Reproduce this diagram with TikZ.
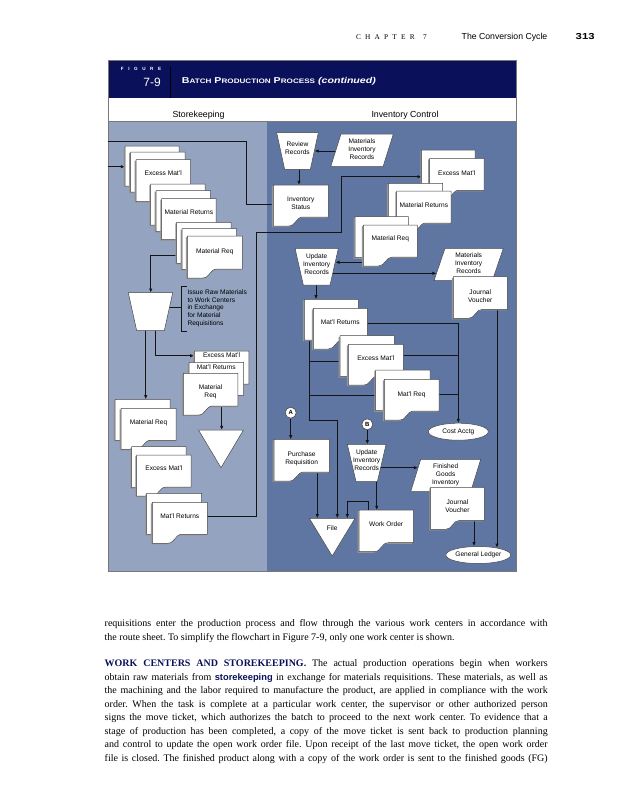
\documentclass[tikz,border=0pt]{standalone}
\usepackage{graphicx}
\usepackage{fontspec}
\setmainfont{Liberation Serif}
\newfontfamily\hv{Liberation Sans}
\usetikzlibrary{arrows.meta,shapes.geometric}
\pgfdeclarelayer{bgl}
\pgfdeclarelayer{conn}
\pgfsetlayers{bgl,conn,main}
\definecolor{navy}{RGB}{10,16,89}
\definecolor{skbg}{RGB}{148,163,191}
\definecolor{icbg}{RGB}{94,118,161}
\definecolor{lnk}{RGB}{20,20,20}
\definecolor{docedge}{RGB}{70,70,70}
\definecolor{docshade}{RGB}{150,150,150}
\definecolor{framegray}{RGB}{120,120,120}
\frenchspacing
\tikzset{
 docsty/.style={fill=white, draw=docedge, line width=0.5pt},
 shadesty/.style={fill=docshade, draw=none},
 anchorbox/.style={draw=none, inner sep=0pt, outer sep=0pt},
 dtxt/.style={inner sep=0pt, align=center, font=\hv\fontsize{6.6}{8}\selectfont, text=black},
 link/.style={draw=lnk, line width=0.8pt},
 arr/.style={link, -{Latex[length=4.2pt,width=3.4pt]}},
 bodyline/.style={anchor=base west, inner sep=0pt, font=\fontsize{10}{13.45}\selectfont},
 colhead/.style={anchor=base, inner sep=0pt, font=\hv\fontsize{8.8}{10}\selectfont},
 oval/.style={ellipse, draw=docedge, fill=white, line width=0.5pt, minimum width=60pt, minimum height=17pt, inner sep=0pt, font=\hv\fontsize{6.6}{8}\selectfont},
 conn/.style={circle, draw=docedge, fill=white, line width=0.6pt, minimum size=11pt, inner sep=0pt, font=\hv\bfseries\fontsize{6}{6}\selectfont},
}
% document symbol: name, x, y, w, h, text, text offset
\newcommand\mkDoc[7]{%
 \pgfmathsetmacro\myXa{#2}%
 \pgfmathsetmacro\myYa{#3}%
 \pgfmathsetmacro\myXb{#2+#4}%
 \pgfmathsetmacro\myYb{#3+#5}%
 \pgfmathsetmacro\myYc{#3+#5-9}%
 \pgfmathsetmacro\myXm{#2+0.54*#4}%
 \pgfmathsetmacro\myXc{#2+0.41*#4}%
 \pgfmathsetmacro\myXq{#2+0.28*#4}%
 \pgfmathsetmacro\myXt{#2+0.5*#4}%
 \pgfmathsetmacro\myYt{#3+#7}%
 \fill[shadesty, shift={(-1.4,1.1)}] (\myXa,\myYa) -- (\myXb,\myYa) -- (\myXb,\myYc) -- (\myXm,\myYc) .. controls (\myXc,\myYc) and (\myXc,\myYb) .. (\myXq,\myYb) -- (\myXa,\myYb) -- cycle;
 \filldraw[docsty] (\myXa,\myYa) -- (\myXb,\myYa) -- (\myXb,\myYc) -- (\myXm,\myYc) .. controls (\myXc,\myYc) and (\myXc,\myYb) .. (\myXq,\myYb) -- (\myXa,\myYb) -- cycle;
 \node[anchorbox, minimum width=#4pt, minimum height=#5pt, anchor=north west] (#1) at (\myXa,\myYa) {};
 \node[dtxt, anchor=north] (#1t) at (\myXt,\myYt) {#6};
}
% manual operation: name, cx, ytop, wtop, wbot, h, text
\newcommand\mkTrap[7]{%
 \pgfmathsetmacro\myXa{#2-#4/2}%
 \pgfmathsetmacro\myXb{#2+#4/2}%
 \pgfmathsetmacro\myXc{#2+#5/2}%
 \pgfmathsetmacro\myXd{#2-#5/2}%
 \pgfmathsetmacro\myYb{#3+#6}%
 \pgfmathsetmacro\myYm{#3+#6/2}%
 \pgfmathsetmacro\myYt{#3+#6/2-3}%
 \filldraw[docsty] (\myXa,#3) -- (\myXb,#3) -- (\myXc,\myYb) -- (\myXd,\myYb) -- cycle;
 \node[anchorbox, minimum width=#4pt, minimum height=#6pt] (#1) at (#2,\myYm) {};
 \node[dtxt] (#1t) at (#2,\myYt) {#7};
}
% parallelogram: name, xTL, ytop, xBL, w, h, text
\newcommand\mkPara[7]{%
 \pgfmathsetmacro\myXa{#2}%
 \pgfmathsetmacro\myXb{#2+#5}%
 \pgfmathsetmacro\myXc{#4+#5}%
 \pgfmathsetmacro\myXd{#4}%
 \pgfmathsetmacro\myYb{#3+#6}%
 \pgfmathsetmacro\myYm{#3+#6/2}%
 \pgfmathsetmacro\myYt{#3+#6/2-1}%
 \pgfmathsetmacro\myXm{(#2+#4+#5)/2}%
 \filldraw[docsty] (\myXa,#3) -- (\myXb,#3) -- (\myXc,\myYb) -- (\myXd,\myYb) -- cycle;
 \node[anchorbox, minimum width=#5pt, minimum height=#6pt] (#1) at (\myXm,\myYm) {};
 \node[dtxt] (#1t) at (\myXm,\myYt) {#7};
}
% off-line file: name, cx, ytop, w, h, text, text y
\newcommand\mkTri[7]{%
 \pgfmathsetmacro\myXa{#2-#4/2}%
 \pgfmathsetmacro\myXb{#2+#4/2}%
 \pgfmathsetmacro\myYb{#3+#5}%
 \pgfmathsetmacro\myYm{#3+#5/2}%
 \filldraw[docsty] (\myXa,#3) -- (\myXb,#3) -- (#2,\myYb) -- cycle;
 \node[anchorbox, minimum width=#4pt, minimum height=#5pt] (#1) at (#2,\myYm) {};
 \node[dtxt] (#1t) at (#2,#7) {#6};
}
\begin{document}
\begin{tikzpicture}[x=1pt,y=-1pt]
\useasboundingbox (0,0) rectangle (639,800);
\begin{pgfonlayer}{bgl}
\fill[white] (0,0) rectangle (639,800);
\fill[navy] (108.3,60) rectangle (516,98.3);
\fill[white] (108.3,98.3) rectangle (516,121.3);
\fill[skbg] (108.3,121.3) rectangle (266.7,571.7);
\fill[icbg] (266.7,121.3) rectangle (516,571.7);
\draw[framegray, line width=0.8pt] (108.3,60) rectangle (516,571.7);
\draw[framegray, line width=1.2pt] (108.3,121.3) -- (516,121.3);
\draw[black, line width=1.2pt] (170.7,66.7) -- (170.7,98.3);
\end{pgfonlayer}

% page header
\node[anchor=base west, inner sep=0pt] (chap) at (355.9,39.1) {\fontsize{7.3}{8}\selectfont\makebox[70.6pt][s]{C\hfill H\hfill A\hfill P\hfill T\hfill E\hfill R\hfill\hfill 7}};
\node[anchor=base west, inner sep=0pt, font=\hv\fontsize{8.7}{9}\selectfont] (chapname) at (461.5,39.5) {The Conversion Cycle};
\node[anchor=base east, inner sep=0pt] (pageno) at (594.8,39.5) {\scalebox{1.3}[1]{\hv\bfseries\fontsize{8.7}{9}\selectfont 313}};

% figure header
\node[anchor=base west, inner sep=0pt, text=white] (figword) at (120.7,70.7) {\hv\bfseries\fontsize{4.6}{5}\selectfont\makebox[40.3pt][s]{F\hfill I\hfill G\hfill U\hfill R\hfill E}};
\node[anchor=base east, inner sep=0pt, text=white, font=\hv\fontsize{12}{13}\selectfont] (fignum) at (161,86.5) {7-9};
\node[anchor=base west, inner sep=0pt, text=white] (figtitle) at (181.7,84) {\scalebox{1.25}[1]{\hv\bfseries\fontsize{8.5}{9}\selectfont B{\fontsize{6.5}{7}\selectfont ATCH} P{\fontsize{6.5}{7}\selectfont RODUCTION} P{\fontsize{6.5}{7}\selectfont ROCESS} {\itshape (continued)}}};
\node[colhead] (hsk) at (198.5,117.5) {Storekeeping};
\node[colhead] (hic) at (405,117.5) {Inventory Control};

% ---------- Storekeeping ----------
\mkDoc{A1}{125}{146}{54}{40}{}{12}
\mkDoc{A2}{130.5}{152}{54.5}{40}{}{12}
\mkDoc{A3}{136}{159.5}{54.5}{42}{Excess Mat’l}{11.5}
\mkDoc{B1}{150.7}{184}{54.5}{41}{}{12}
\mkDoc{B2}{156}{190.5}{54.5}{41}{}{12}
\mkDoc{B3}{161.7}{198.7}{54.5}{41}{Material Returns}{11}
\mkDoc{C1}{176.7}{222.3}{54.5}{41}{}{12}
\mkDoc{C2}{182}{228.5}{54.5}{41}{}{12}
\mkDoc{C3}{187.3}{236}{55}{42}{Material Req}{12.5}
\mkTrap{T1}{150.5}{292.7}{44.4}{27.6}{38}{}
\node[dtxt, anchor=west, align=left, font=\hv\fontsize{6.6}{7.65}\selectfont] (T1note) at (187.3,308) {Issue Raw Materials\\to Work Centers\\in Exchange\\for Material\\Requisitions};
\mkDoc{D1}{194.3}{351}{54.5}{42}{Excess Mat’l}{2}
\mkDoc{D2}{189}{362.3}{54.5}{42}{Mat’l Returns}{2}
\mkDoc{D3}{183.3}{373.3}{54.5}{41.7}{Material\\Req}{11.6}
\mkTri{TRI1}{221}{430}{45}{37.7}{}{440}
\mkDoc{E1a}{115}{399.3}{55}{41}{}{12}
\mkDoc{E1b}{121}{408.3}{55}{41}{Material Req}{11}
\mkDoc{E2a}{131.7}{446.7}{54.5}{41}{}{12}
\mkDoc{E2b}{136.7}{455}{54.5}{41}{Excess Mat’l}{11}
\mkDoc{E3a}{146.7}{493.3}{55}{41}{}{12}
\mkDoc{E3b}{152.3}{502.3}{55}{41}{Mat’l Returns}{11}

% ---------- Inventory Control ----------
\mkTrap{RR}{297.5}{132.7}{41.6}{25.7}{36.6}{Review\\Records}
\mkPara{MIR1}{341}{134}{330.7}{52.3}{32.7}{Materials\\Inventory\\Records}
\mkDoc{IS}{273.3}{185}{55}{41}{Inventory\\Status}{12}
\mkDoc{F1}{421.7}{150}{53.3}{41}{}{12}
\mkDoc{F2}{429.5}{158.3}{54.5}{41}{Excess Mat’l}{12}
\mkDoc{G1}{388.3}{183.3}{54.4}{41}{}{12}
\mkDoc{G2}{396.7}{191}{54.3}{41}{Material Returns}{11.6}
\mkDoc{H1}{355}{216.7}{53.3}{41}{}{12}
\mkDoc{H2}{363.3}{225}{54}{41}{Material Req}{11}
\mkTrap{UIR1}{316.7}{248.3}{43.3}{26.7}{36.7}{Update\\Inventory\\Records}
\mkPara{MIR2}{445}{248.3}{434}{58.3}{32.4}{Materials\\Inventory\\Records}
\mkDoc{JV1}{453.3}{276.7}{54}{41.6}{Journal\\Voucher}{12.6}
\mkDoc{I1}{304.3}{299.3}{54}{40.7}{}{12}
\mkDoc{I2}{313.3}{308.3}{54}{40.7}{Mat’l Returns}{11.6}
\mkDoc{J1}{340}{335.7}{54.3}{40.7}{}{12}
\mkDoc{J2}{348.3}{344.3}{55}{40.7}{Excess Mat’l}{11.6}
\mkDoc{K1}{375.7}{370}{54.3}{40.7}{}{12}
\mkDoc{K2}{384.3}{379.3}{54.7}{40.7}{Mat’l Req}{12.6}
\node[conn] (cA) at (290.7,412.7) {A};
\node[conn] (cB) at (367.3,424.3) {B};
\node[oval] (CA) at (458.3,431.7) {Cost Acctg};
\mkDoc{PR}{274}{439.3}{55.3}{41.7}{Purchase\\Requisition}{12.6}
\mkTrap{UIR2}{366.7}{444.3}{38.7}{21.3}{37.4}{Update\\Inventory\\Records}
\mkPara{FGI}{420.7}{459.3}{410.7}{60}{32.4}{Finished\\Goods\\Inventory}
\mkDoc{JV2}{430.7}{487.3}{53.6}{42}{Journal\\Voucher}{12.6}
\mkDoc{WO}{359}{510}{54.3}{41.7}{Work Order}{12}
\mkTri{File}{332.2}{518.3}{45.7}{37.7}{File}{528.3}
\node[oval] (GL) at (478.3,555) {General Ledger};

% ---------- connectors ----------
\begin{pgfonlayer}{conn}
\coordinate (Lin1) at (108.3,141.7);
\coordinate (Lin2) at (108.3,166.7);
\coordinate (RRr) at (314.5,151);
\coordinate (UIRr) at (335.3,262.3);
\coordinate (MIRl) at (436.5,273.3);
\coordinate (FGIl) at (418.1,467.7);
\draw[link] (Lin1) -- (246.7,141.7) -- (246.7,204) -- (IS.west |- 0,204);
\draw[arr] (Lin2) -- (A1.west |- Lin2);
\draw[arr] (C1.center |- 0,255) -- (150.7,255) -- (150.7,0 |- T1.north);
\draw[link] (T1.center |- 0,307.3) -- (181.7,307.3);
\draw[link, line width=0.7pt] (186.7,286.7) -- (181.7,286.7) -- (181.7,331) -- (186.7,331);
\draw[arr] (145.7,0 |- T1.center) -- (145.7,0 |- E1a.north);
\draw[arr] (155.7,0 |- T1.center) -- (155.7,355.7) -- (D1.west |- 0,355.7);
\draw[arr] (221.7,0 |- D3.center) -- (221.7,0 |- TRI1.north);
\draw[arr] (E3b.center |- 0,516.7) -- (256,516.7) -- (256,232.3) -- (341.7,232.3) -- (341.7,176.7) -- (F1.west |- 0,176.7);
\draw[arr] (MIR1.center |- 0,151) -- (RRr);
\draw[arr] (299,0 |- RR.center) -- (299,0 |- IS.north);
\draw[arr] (H2.west |- 0,262.3) -- (UIRr);
\draw[arr] (UIR1.center |- 0,273.3) -- (MIRl);
\draw[arr] (316,0 |- UIR1.center) -- (316,0 |- I1.north);
\draw[arr] (309,0 |- I1.center) -- (309,420.7) -- (337.3,420.7) -- (337.3,0 |- File.north);
\draw[link] (J1.center |- 0,361) -- (309,361);
\draw[link] (K1.center |- 0,395.7) -- (309,395.7);
\draw[arr] (I2.center |- 0,323.3) -- (458.3,323.3) -- (458.3,0 |- CA.north);
\draw[link] (J2.center |- 0,355.7) -- (458.3,355.7);
\draw[link] (K2.center |- 0,394.3) -- (458.3,394.3);
\draw[arr] (JV1.center -| GL.21) -- (GL.21);
\draw[arr] (cA.south) -- (cA.south |- PR.north);
\draw[arr] (317.3,0 |- PR.center) -- (317.3,0 |- File.north);
\draw[arr] (cB.south) -- (cB.south |- UIR2.north);
\draw[arr] (UIR2.center |- 0,467.7) -- (FGIl);
\draw[arr] (376.7,0 |- UIR2.center) -- (376.7,0 |- WO.north);
\draw[arr] (474,0 |- JV2.center) -- (474,0 |- GL.north);
\draw[arr] (368.3,0 |- WO.center) -- (368.3,501.7) -- (347.3,501.7) -- (347.3,0 |- File.north);
\end{pgfonlayer}

% ---------- body text ----------
\node[bodyline] (L1) at (104.5,626.6) {\makebox[443pt][s]{requisitions enter the production process and flow through the various work centers in accordance with}};
\node[bodyline] (L2) at (104.5,640.05) {the route sheet. To simplify the flowchart in Figure 7-9, only one work center is shown.};
\node[bodyline] (L3) at (104.5,666.95) {\makebox[443pt][s]{\textcolor{navy}{\bfseries WORK CENTERS AND STOREKEEPING.} The actual production operations begin when workers}};
\node[bodyline] (L4) at (104.5,680.4) {\makebox[443pt][s]{obtain raw materials from {\hv\bfseries\fontsize{9.3}{10}\selectfont\color{navy}storekeeping} in exchange for materials requisitions. These materials, as well as}};
\node[bodyline] (L5) at (104.5,693.85) {\makebox[443pt][s]{the machining and the labor required to manufacture the product, are applied in compliance with the work}};
\node[bodyline] (L6) at (104.5,707.3) {\makebox[443pt][s]{order. When the task is complete at a particular work center, the supervisor or other authorized person}};
\node[bodyline] (L7) at (104.5,720.75) {\makebox[443pt][s]{signs the move ticket, which authorizes the batch to proceed to the next work center. To evidence that a}};
\node[bodyline] (L8) at (104.5,734.2) {\makebox[443pt][s]{stage of production has been completed, a copy of the move ticket is sent back to production planning}};
\node[bodyline] (L9) at (104.5,747.65) {\makebox[443pt][s]{and control to update the open work order file. Upon receipt of the last move ticket, the open work order}};
\node[bodyline] (L10) at (104.5,761.1) {\makebox[443pt][s]{file is closed. The finished product along with a copy of the work order is sent to the finished goods (FG)}};
\end{tikzpicture}
\end{document}
